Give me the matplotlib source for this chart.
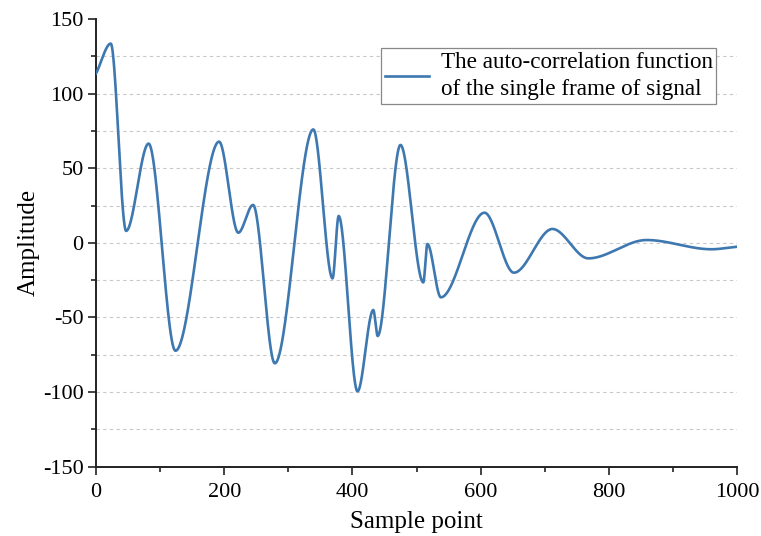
import numpy as np
import matplotlib
matplotlib.use("Agg")
import matplotlib.pyplot as plt
from matplotlib.ticker import MultipleLocator

plt.rcParams["axes.unicode_minus"] = False

# Values (extrema of the curve)
sample_x = [0, 23, 47, 82, 124, 192, 222, 245, 279, 339, 369, 378.6, 408,
            432.6, 439.4, 475, 510.6, 517, 538, 606, 652, 712, 768, 859, 960, 1000]
amplitude = [113.5, 133.5, 8.0, 66.5, -72.3, 67.8, 6.8, 25.4, -80.7, 76.0, -23.8,
             18.0, -99.5, -45.0, -62.4, 65.6, -26.5, -0.8, -36.5, 20.2, -20.0,
             9.3, -10.4, 1.9, -4.3, -2.6]
legend_label = "The auto-correlation function\nof the single frame of signal"
x_label = "Sample point"
y_label = "Amplitude"


def pchip(x, y, xn):
    x = np.asarray(x, float)
    y = np.asarray(y, float)
    h = np.diff(x)
    d = np.diff(y) / h
    n = len(x)
    m = np.zeros(n)
    for k in range(1, n - 1):
        if d[k - 1] * d[k] > 0:
            w1 = 2 * h[k] + h[k - 1]
            w2 = h[k] + 2 * h[k - 1]
            m[k] = (w1 + w2) / (w1 / d[k - 1] + w2 / d[k])
    m[0] = d[0] * 0.9
    m[-1] = d[-1] * 0.9
    idx = np.clip(np.searchsorted(x, xn) - 1, 0, n - 2)
    t = (xn - x[idx]) / h[idx]
    h00 = 2 * t**3 - 3 * t**2 + 1
    h10 = t**3 - 2 * t**2 + t
    h01 = -2 * t**3 + 3 * t**2
    h11 = t**3 - t**2
    return h00 * y[idx] + h10 * h[idx] * m[idx] + h01 * y[idx + 1] + h11 * h[idx] * m[idx + 1]


W, H = 761, 536
fig = plt.figure(figsize=(W / 100, H / 100), dpi=100)
ax = fig.add_axes([96 / W, 1 - 466.7 / H, 641 / W, 447.7 / H])

serif = ["Liberation Serif", "DejaVu Serif"]

xs = np.linspace(0, 1000, 3000)
ax.plot(xs, pchip(sample_x, amplitude, xs), color="#3e78b0", lw=1.9,
        label=legend_label, solid_joinstyle="round", zorder=3)

ax.set_xlim(0, 1000)
ax.set_ylim(-150, 150)
ax.xaxis.set_major_locator(MultipleLocator(200))
ax.xaxis.set_minor_locator(MultipleLocator(100))
ax.yaxis.set_major_locator(MultipleLocator(50))
ax.yaxis.set_minor_locator(MultipleLocator(25))

for v in np.arange(-125, 126, 25):
    ax.axhline(v, color="#c8c8c8", lw=0.8, ls=(0, (3, 3)), zorder=1)

for s in ["top", "right"]:
    ax.spines[s].set_visible(False)
for s in ["left", "bottom"]:
    ax.spines[s].set_linewidth(1.4)
    ax.spines[s].set_color("#222222")

ax.tick_params(which="major", direction="out", length=6, width=1.2, color="#222222",
               labelsize=16, pad=3)
ax.tick_params(axis="x", which="major", pad=5.5)
ax.tick_params(which="minor", direction="out", length=3.5, width=1.2, color="#222222")
for lab in ax.get_xticklabels() + ax.get_yticklabels():
    lab.set_fontfamily(serif)

ax.set_xlabel(x_label, fontsize=18, family=serif, labelpad=7)
ax.set_ylabel(y_label, fontsize=18, family=serif, labelpad=2)

leg = ax.legend(loc="upper right", bbox_to_anchor=((716 - 96) / 641, (466.7 - 48.3) / 447.7),
                borderaxespad=0, prop={"family": serif, "size": 16.7},
                handlelength=1.9, handletextpad=0.5, borderpad=0.15,
                fancybox=False, framealpha=1, edgecolor="#888888")
for t in leg.get_texts():
    t.set_linespacing(1.4)
leg.get_frame().set_linewidth(0.9)
leg.set_zorder(5)

fig.savefig("out.png", dpi=100, facecolor="white")
